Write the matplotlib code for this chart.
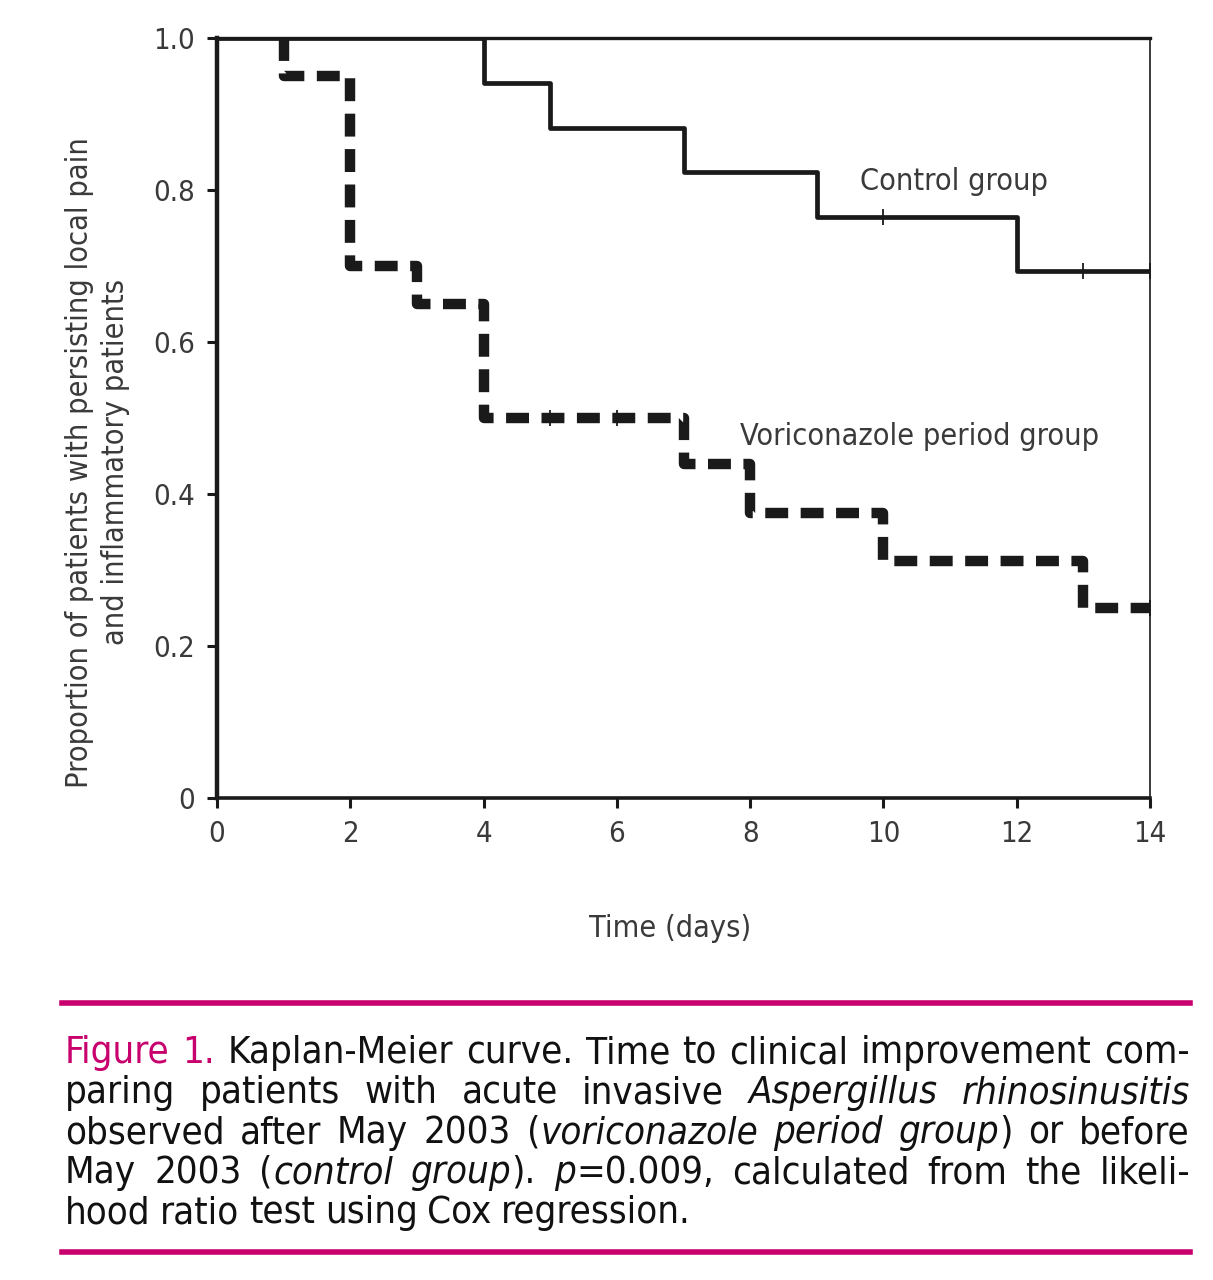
import matplotlib
matplotlib.use('Agg')
import matplotlib.pyplot as plt
from matplotlib.lines import Line2D

# Kaplan-Meier data
ctrl_t = [0, 4, 5, 7, 9, 12, 14]
ctrl_s = [1.0, 0.941, 0.882, 0.824, 0.765, 0.694, 0.694]
ctrl_cens_t = [10, 13, 14]
ctrl_cens_s = [0.765, 0.694, 0.694]

vori_t = [0, 1, 2, 3, 4, 7, 8, 10, 13, 14]
vori_s = [1.0, 0.95, 0.70, 0.65, 0.50, 0.44, 0.375, 0.3125, 0.25, 0.25]
vori_cens_t = [5, 6, 14]
vori_cens_s = [0.50, 0.50, 0.25]

xticks = [0, 2, 4, 6, 8, 10, 12, 14]
yticks = [0, 0.2, 0.4, 0.6, 0.8, 1.0]
ytick_labels = ['0', '0.2', '0.4', '0.6', '0.8', '1.0']

caption = [
    "#Figure 1.# Kaplan-Meier curve. Time to clinical improvement com-",
    "paring patients with acute invasive *Aspergillus rhinosinusitis*",
    "observed after May 2003 (*voriconazole period group*) or before",
    "May 2003 (*control group*). *p*=0.009, calculated from the likeli-",
    "hood ratio test using Cox regression.",
]

FONT = ['DejaVu Sans']
STRETCH = 'condensed'
MAGENTA = '#c8006e'
GREY = '#3a3a3a'

W, H = 1213, 1280
fig = plt.figure(figsize=(W / 100, H / 100), dpi=100)
ax = fig.add_axes([217 / W, 1 - 798 / H, (1150 - 217) / W, (798 - 38) / H])

ax.step(ctrl_t, ctrl_s, where='post', color='#1a1a1a', lw=3.4, zorder=3)
ax.plot(ctrl_cens_t, ctrl_cens_s, ls='none', marker='|', ms=11, mew=1.3,
        color='#1a1a1a', clip_on=False, zorder=4)

# first flat part of the dashed curve lies on the frame, start drawing at day 1
ax.step(vori_t[1:], vori_s[:-1], where='pre', color='#1a1a1a', lw=7.5,
        dashes=(2.2, 1.2), dash_capstyle='butt', zorder=3)
ax.plot(vori_cens_t, vori_cens_s, ls='none', marker='|', ms=11, mew=1.3,
        color='#1a1a1a', clip_on=False, zorder=4)

ax.set_xlim(0, 14)
ax.set_ylim(0, 1.0)
ax.set_xticks(xticks)
ax.set_xticklabels([str(t) for t in xticks])
ax.set_yticks(yticks)
ax.set_yticklabels(ytick_labels)
ax.tick_params(direction='out', length=7, width=2.2, color='#1a1a1a',
               labelsize=21, labelcolor=GREY, pad=9)
for lab in ax.get_xticklabels() + ax.get_yticklabels():
    lab.set_family(FONT)
    lab.set_stretch(STRETCH)

ax.spines['left'].set_linewidth(3.2)
ax.spines['bottom'].set_linewidth(2.6)
ax.spines['top'].set_linewidth(2.4)
ax.spines['right'].set_linewidth(1.2)
for s in ax.spines.values():
    s.set_color('#1a1a1a')

ax.set_xlabel('Time (days)', fontsize=22, family=FONT, stretch=STRETCH, color=GREY)
ax.xaxis.set_label_coords(0.486, -0.152)
ax.set_ylabel('Proportion of patients with persisting local pain\nand inflammatory patients',
              fontsize=22, family=FONT, stretch=STRETCH, color=GREY, linespacing=1.3)
ax.yaxis.set_label_coords(-0.093, 0.442)

ax.text(9.65, 0.80, 'Control group', fontsize=22, family=FONT, stretch=STRETCH,
        color=GREY)
ax.text(7.85, 0.465, 'Voriconazole period group', fontsize=22, family=FONT,
        stretch=STRETCH, color=GREY)

# magenta rules around the caption
for yy in (1003, 1252):
    fig.add_artist(Line2D([62 / W, 1190 / W], [1 - yy / H, 1 - yy / H],
                          color=MAGENTA, lw=4, transform=fig.transFigure))


def parse_words(line):
    words, cur, piece = [], [], ''
    ital, mag = False, False
    for ch in line:
        if ch in '*#':
            if piece:
                cur.append((piece, ital, mag))
                piece = ''
            if ch == '*':
                ital = not ital
            else:
                mag = not mag
        elif ch == ' ':
            if piece:
                cur.append((piece, ital, mag))
                piece = ''
            if cur:
                words.append(cur)
                cur = []
        else:
            piece += ch
    if piece:
        cur.append((piece, ital, mag))
    if cur:
        words.append(cur)
    return words


renderer = fig.canvas.get_renderer()
x0, x1 = 65, 1190
cap_size = 27.5
for i, line in enumerate(caption):
    yb = 1063 + i * 40
    words = parse_words(line)
    items = []
    for w in words:
        arts = []
        for txt, it, mg in w:
            t = fig.text(0, 1 - yb / H, txt, fontsize=cap_size, family=FONT,
                         stretch=STRETCH, style='italic' if it else 'normal',
                         color=MAGENTA if mg else '#111111', va='baseline')
            arts.append(t)
        widths = [a.get_window_extent(renderer).width for a in arts]
        items.append((arts, widths))
    total = sum(sum(wd) for _, wd in items)
    if i < len(caption) - 1 and len(items) > 1:
        gap = (x1 - x0 - total) / (len(items) - 1)
    else:
        gap = cap_size * 0.35
    x = x0
    for arts, widths in items:
        for a, wd in zip(arts, widths):
            a.set_x(x / W)
            x += wd
        x += gap

fig.savefig('out.png', dpi=100)
